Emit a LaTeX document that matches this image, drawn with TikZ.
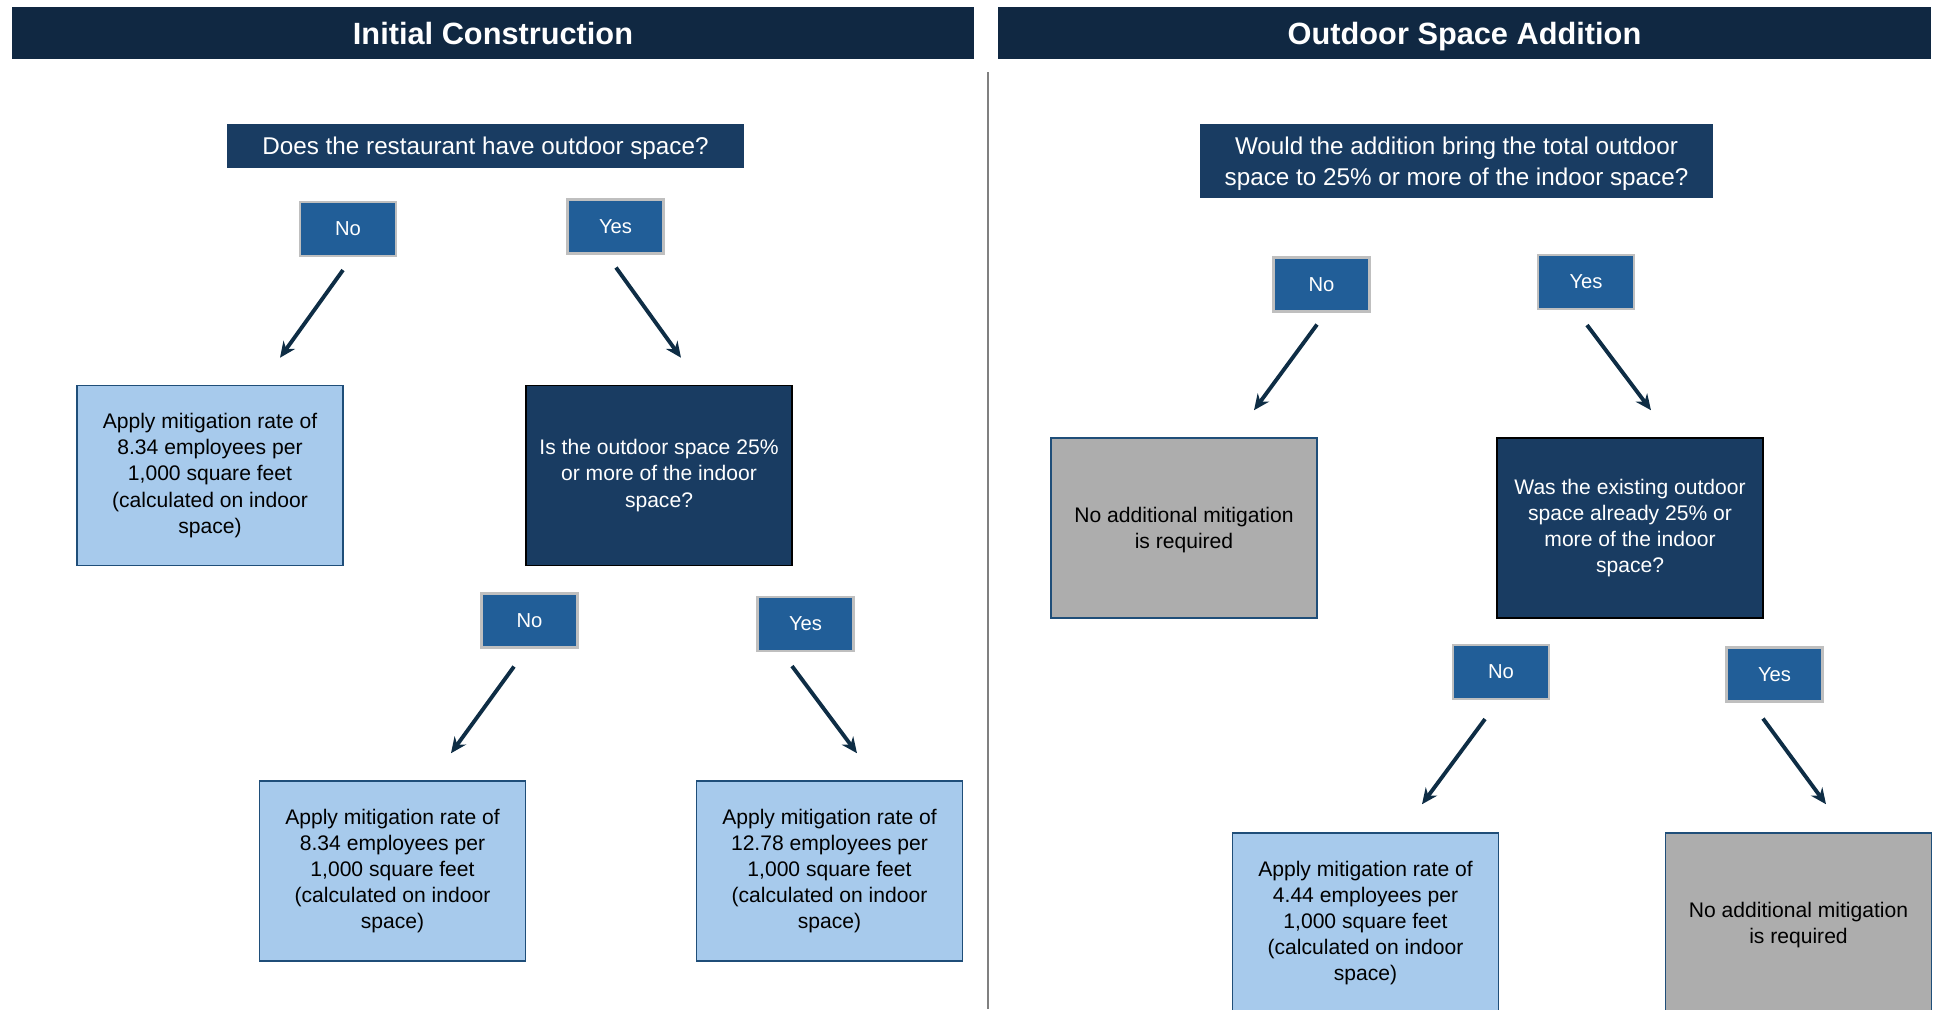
\documentclass[tikz,border=0pt]{standalone}
\usepackage{fontspec}
\setmainfont{Liberation Sans}
\usetikzlibrary{arrows.meta}

\definecolor{headbg}{RGB}{16,40,66}
\definecolor{qdark}{RGB}{25,60,98}
\definecolor{btnblue}{RGB}{33,94,152}
\definecolor{btnline}{RGB}{191,191,191}
\definecolor{lightbox}{RGB}{167,202,236}
\definecolor{boxline}{RGB}{31,78,121}
\definecolor{graybox}{RGB}{173,173,173}
\definecolor{arrowcol}{RGB}{14,45,69}

\begin{document}
\begin{tikzpicture}[x=0.02cm,y=-0.02cm,
    header/.style={fill=headbg,text=white,minimum height=1.04cm,inner sep=0pt,
      text depth=0pt,font=\fontsize{17.5}{21}\selectfont\bfseries},
    question/.style={fill=qdark,text=white,inner sep=0pt,align=center,
      text depth=0pt,font=\fontsize{13.8}{17.5}\selectfont},
    answer/.style={fill=btnblue,draw=btnline,line width=1.2pt,text=white,
      minimum width=1.92cm,minimum height=1.08cm,inner sep=0pt,
      font=\fontsize{11.5}{14}\selectfont},
    bigbox/.style={minimum width=5.32cm,minimum height=3.6cm,inner sep=0pt,
      align=center,font=\fontsize{12}{14.9}\selectfont,line width=0.9pt},
    rate/.style={bigbox,fill=lightbox,draw=boxline},
    nomore/.style={bigbox,fill=graybox,draw=boxline,text depth=0pt},
    ask/.style={bigbox,fill=qdark,draw=black,text=white},
    arr/.style={draw=arrowcol,line width=2.2pt,-{Stealth[length=9pt,width=8pt]}}]
  \useasboundingbox (0,0) rectangle (1941,1009);

  %% headers and divider
  \node[header,minimum width=19.24cm] (hl) at (493,33) {Initial Construction};
  \node[header,minimum width=18.66cm] (hr) at (1464.5,33) {Outdoor Space Addition};
  \coordinate (dtop) at (988,72);
  \coordinate (dbot) at (988,1009);
  \draw[gray,line width=1.1pt] (dtop) -- (dbot);

  %% initial construction
  \node[question,minimum width=10.34cm,minimum height=0.88cm] (q1) at (485.5,146)
    {Does the restaurant have outdoor space?};
  \node[answer] (no1) at (348,229) {No};
  \node[answer] (yes1) at (615.5,226.5) {Yes};
  \node[rate] (a1) at (210,475.5)
    {Apply mitigation rate of\\8.34 employees per\\1,000 square feet\\(calculated on indoor\\space)};
  \node[ask] (q2) at (659,475.5) {Is the outdoor space 25\%\\or more of the indoor\\space?};
  \node[answer] (no2) at (529.5,620.5) {No};
  \node[answer] (yes2) at (805.5,624) {Yes};
  \node[rate] (a2) at (392.5,871)
    {Apply mitigation rate of\\8.34 employees per\\1,000 square feet\\(calculated on indoor\\space)};
  \node[rate] (a3) at (829.5,871)
    {Apply mitigation rate of\\12.78 employees per\\1,000 square feet\\(calculated on indoor\\space)};

  %% outdoor space addition
  \node[question,minimum width=10.26cm,minimum height=1.48cm] (q3) at (1456.5,161)
    {Would the addition bring the total outdoor\\space to 25\% or more of the indoor space?};
  \node[answer] (no3) at (1321.5,284.5) {No};
  \node[answer] (yes3) at (1586,282) {Yes};
  \node[nomore] (g1) at (1184,528) {No additional mitigation\\is required};
  \node[ask] (q4) at (1630,528)
    {Was the existing outdoor\\space already 25\% or\\more of the indoor\\space?};
  \node[answer] (no4) at (1501,672) {No};
  \node[answer] (yes4) at (1774.5,674.5) {Yes};
  \node[rate] (a4) at (1365.5,923)
    {Apply mitigation rate of\\4.44 employees per\\1,000 square feet\\(calculated on indoor\\space)};
  \node[nomore] (g2) at (1798.5,923) {No additional mitigation\\is required};

  %% arrows
  \foreach \a/\ax/\ay/\b/\bx/\by in {no1/-5/13/a1/70/-27, yes1/0.5/13/q2/22/-27,
      no2/-15.5/18/a2/58.5/-27, yes2/-13.5/14/a3/27.5/-27,
      no3/-4.5/12/g1/70/-27, yes3/1/15/q4/21/-27,
      no4/-16/19/a4/56.5/-28, yes4/-11.5/16/g2/27.5/-28}
    \draw[arr] ([shift={(\ax,\ay)}]\a.south) -- ([shift={(\bx,\by)}]\b.north);
\end{tikzpicture}
\end{document}
